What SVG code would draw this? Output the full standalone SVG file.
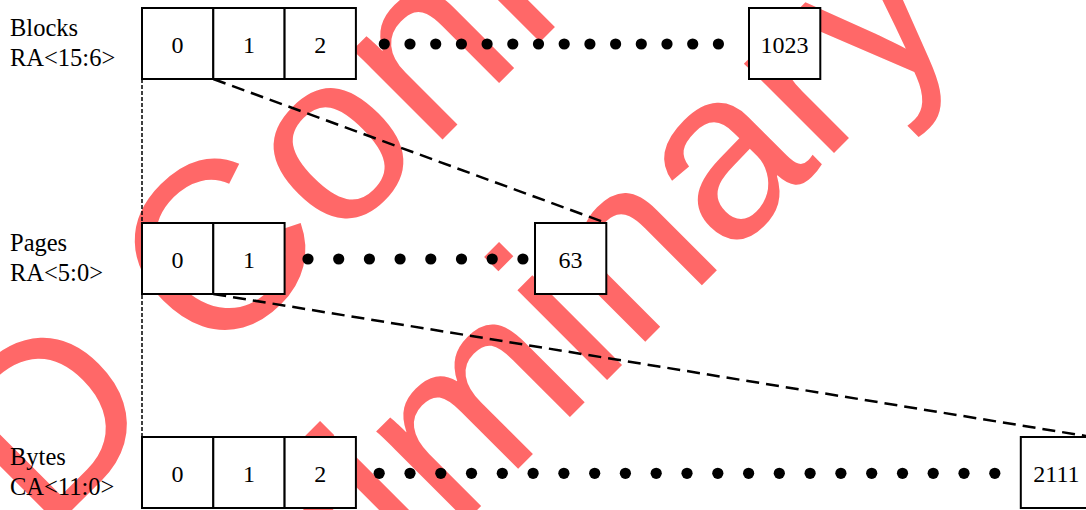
<svg xmlns="http://www.w3.org/2000/svg" width="1086" height="510" viewBox="0 0 1086 510">
<style>
.wm{font-family:"Liberation Sans",Arial,sans-serif;font-size:240px;fill:#ff6868}
.box{fill:#fff;stroke:#000;stroke-width:2}
.lbl{font-family:"Liberation Serif","Times New Roman",serif;font-size:24.5px;fill:#000}
.num{font-family:"Liberation Serif","Times New Roman",serif;font-size:24px;fill:#000;text-anchor:middle}
.dash{fill:none;stroke:#000;stroke-width:2.5;stroke-dasharray:13 7}
.thin{fill:none;stroke:#000;stroke-width:1.5;stroke-dasharray:4 2}
</style>
<defs>
<circle id="dot" r="5.6" fill="#000"/>
</defs>
<rect width="1086" height="510" fill="#fff"/>
<g id="watermark">
<text class="wm" transform="translate(44,538) rotate(-45)">D Confidential</text>
<text class="wm" transform="translate(115,872) rotate(-45)">Preliminary</text>
</g>
<g id="connectors">
<line class="thin" x1="142" y1="79" x2="142" y2="437"/>
<line class="dash" x1="213.3" y1="79" x2="606.3" y2="223"/>
<line class="dash" x1="213.3" y1="294" x2="1092" y2="437"/>
</g>
<g id="labels">
<text class="lbl" x="10" y="36">Blocks</text>
<text class="lbl" x="10" y="66">RA&lt;15:6&gt;</text>
<text class="lbl" x="10" y="251">Pages</text>
<text class="lbl" x="10" y="281">RA&lt;5:0&gt;</text>
<text class="lbl" x="10" y="465">Bytes</text>
<text class="lbl" x="10" y="495">CA&lt;11:0&gt;</text>
</g>
<g id="blocks">
<g id="block-0"><rect class="box" x="142" y="8" width="71.3" height="71"/><text class="num" x="177.6" y="52.5">0</text></g>
<g id="block-1"><rect class="box" x="213.3" y="8" width="71.3" height="71"/><text class="num" x="249" y="52.5">1</text></g>
<g id="block-2"><rect class="box" x="284.6" y="8" width="71.3" height="71"/><text class="num" x="320.3" y="52.5">2</text></g>
<g id="block-1023"><rect class="box" x="749" y="8" width="71.3" height="71"/><text class="num" x="784.6" y="52.5">1023</text></g>
<g id="block-dots">
<use href="#dot" x="384.3" y="44"/><use href="#dot" x="410" y="44"/><use href="#dot" x="435.7" y="44"/><use href="#dot" x="461.4" y="44"/><use href="#dot" x="487.1" y="44"/><use href="#dot" x="512.8" y="44"/><use href="#dot" x="538.5" y="44"/><use href="#dot" x="564.2" y="44"/><use href="#dot" x="589.9" y="44"/><use href="#dot" x="615.6" y="44"/><use href="#dot" x="641.3" y="44"/><use href="#dot" x="667" y="44"/><use href="#dot" x="692.7" y="44"/><use href="#dot" x="718.4" y="44"/>
</g>
</g>
<g id="pages">
<g id="page-0"><rect class="box" x="142" y="223" width="71.3" height="71"/><text class="num" x="177.6" y="267.5">0</text></g>
<g id="page-1"><rect class="box" x="213.3" y="223" width="71.3" height="71"/><text class="num" x="249" y="267.5">1</text></g>
<g id="page-63"><rect class="box" x="535" y="223" width="71.3" height="71"/><text class="num" x="570.6" y="267.5">63</text></g>
<g id="page-dots">
<use href="#dot" x="308" y="259"/><use href="#dot" x="338.7" y="259"/><use href="#dot" x="369.4" y="259"/><use href="#dot" x="400.1" y="259"/><use href="#dot" x="430.8" y="259"/><use href="#dot" x="461.5" y="259"/><use href="#dot" x="492.2" y="259"/><use href="#dot" x="522.9" y="259"/>
</g>
</g>
<g id="bytes">
<g id="byte-0"><rect class="box" x="142" y="437" width="71.3" height="71"/><text class="num" x="177.6" y="481.5">0</text></g>
<g id="byte-1"><rect class="box" x="213.3" y="437" width="71.3" height="71"/><text class="num" x="249" y="481.5">1</text></g>
<g id="byte-2"><rect class="box" x="284.6" y="437" width="71.3" height="71"/><text class="num" x="320.3" y="481.5">2</text></g>
<g id="byte-2111"><rect class="box" x="1020.8" y="437" width="71.3" height="71"/><text class="num" x="1056.4" y="481.5">2111</text></g>
<g id="byte-dots">
<use href="#dot" x="379.2" y="473.3"/><use href="#dot" x="410" y="473.3"/><use href="#dot" x="440.8" y="473.3"/><use href="#dot" x="471.5" y="473.3"/><use href="#dot" x="502.3" y="473.3"/><use href="#dot" x="533.1" y="473.3"/><use href="#dot" x="563.9" y="473.3"/><use href="#dot" x="594.7" y="473.3"/><use href="#dot" x="625.4" y="473.3"/><use href="#dot" x="656.2" y="473.3"/><use href="#dot" x="687" y="473.3"/><use href="#dot" x="717.8" y="473.3"/><use href="#dot" x="748.6" y="473.3"/><use href="#dot" x="779.3" y="473.3"/><use href="#dot" x="810.1" y="473.3"/><use href="#dot" x="840.9" y="473.3"/><use href="#dot" x="871.7" y="473.3"/><use href="#dot" x="902.5" y="473.3"/><use href="#dot" x="933.2" y="473.3"/><use href="#dot" x="964" y="473.3"/><use href="#dot" x="994.8" y="473.3"/>
</g>
</g>
</svg>
